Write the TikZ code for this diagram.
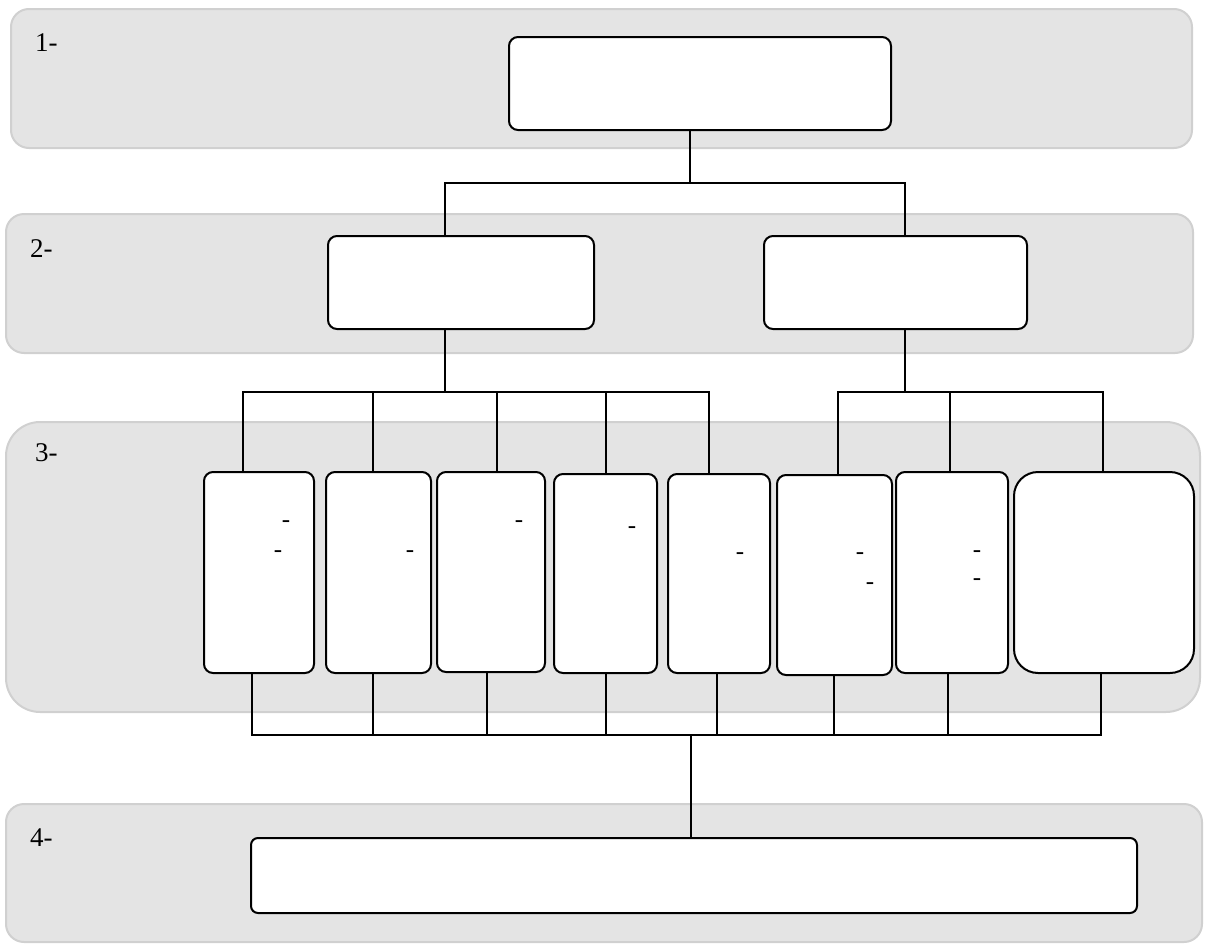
\documentclass[tikz,border=0pt]{standalone}
\usepackage{fontspec}
\setmainfont{Liberation Serif}
\definecolor{bandfill}{HTML}{E4E4E4}
\definecolor{bandline}{HTML}{D0D0D0}
\tikzset{
  band/.style={fill=bandfill, draw=bandline, line width=2pt, rounded corners=18pt},
  box/.style={draw=black, fill=white, line width=2pt, rounded corners=9pt, inner sep=0pt},
  conn/.style={draw=black, line width=2pt},
  lbl/.style={font=\fontsize{27}{32}\selectfont, inner sep=0pt, anchor=base west},
  hyph/.style={font=\fontsize{25}{30}\selectfont, inner sep=0pt, anchor=north}
}
\begin{document}
\begin{tikzpicture}[x=1pt,y=-1pt]
\useasboundingbox (0,0) rectangle (1208,945);
% bands
\draw[band] (11,9) rectangle (1192,148);
\draw[band] (6,214) rectangle (1193,353);
\draw[band, rounded corners=34pt] (6,422) rectangle (1200,712);
\draw[band] (6,804) rectangle (1202,942);
% labels
\node[lbl] (l1) at (35,51) {1-};
\node[lbl] (l2) at (30,257) {2-};
\node[lbl] (l3) at (35,461) {3-};
\node[lbl] (l4) at (30,846) {4-};
% level 1
\node[box, minimum width=382pt, minimum height=93pt] (T) at (700,83.5) {};
% level 2
\node[box, minimum width=266pt, minimum height=93pt] (A) at (461,282.5) {};
\node[box, minimum width=263pt, minimum height=93pt] (B) at (895.5,282.5) {};
% level 3
\node[box, minimum width=110pt, minimum height=201pt] (c1) at (259,572.5) {};
\node[box, minimum width=105pt, minimum height=201pt] (c2) at (378.5,572.5) {};
\node[box, minimum width=108pt, minimum height=200pt] (c3) at (491,572) {};
\node[box, minimum width=103pt, minimum height=199pt] (c4) at (605.5,573.5) {};
\node[box, minimum width=102pt, minimum height=199pt] (c5) at (719,573.5) {};
\node[box, minimum width=115pt, minimum height=200pt] (c6) at (834.5,575) {};
\node[box, minimum width=112pt, minimum height=201pt] (c7) at (952,572.5) {};
\node[box, minimum width=180pt, minimum height=201pt, rounded corners=24pt] (c8) at (1104,572.5) {};
% level 4
\node[box, minimum width=886pt, minimum height=75pt, rounded corners=7pt] (D) at (694,875.5) {};
% hyphens
\node[hyph] (h1) at (286,520) {-};
\node[hyph] (h2) at (278,550) {-};
\node[hyph] (h3) at (410,550) {-};
\node[hyph] (h4) at (519,520) {-};
\node[hyph] (h5) at (632,526) {-};
\node[hyph] (h6) at (740,552) {-};
\node[hyph] (h7) at (860,552) {-};
\node[hyph] (h8) at (870,582) {-};
\node[hyph] (h9) at (977,550) {-};
\node[hyph] (h10) at (977,578) {-};
% connectors level 1 -> 2
\coordinate (j1) at (690,183);
\coordinate (a1) at (445,183);
\coordinate (b1) at (905,183);
\draw[conn] (T.south -| j1) -- (j1);
\draw[conn] (A.north -| a1) -- (a1) -- (b1) -- (B.north -| b1);
% connectors A -> c1..c5
\coordinate (ja) at (445,392);
\coordinate (d1) at (243,392);
\coordinate (d2) at (373,392);
\coordinate (d3) at (497,392);
\coordinate (d4) at (606,392);
\coordinate (d5) at (709,392);
\draw[conn] (A.south -| ja) -- (ja);
\draw[conn] (c1.north -| d1) -- (d1) -- (d5) -- (c5.north -| d5);
\draw[conn] (c2.north -| d2) -- (d2);
\draw[conn] (c3.north -| d3) -- (d3);
\draw[conn] (c4.north -| d4) -- (d4);
% connectors B -> c6..c8
\coordinate (jb) at (905,392);
\coordinate (d6) at (838,392);
\coordinate (d7) at (950,392);
\coordinate (d8) at (1103,392);
\draw[conn] (B.south -| jb) -- (jb);
\draw[conn] (c6.north -| d6) -- (d6) -- (d8) -- (c8.north -| d8);
\draw[conn] (c7.north -| d7) -- (d7);
% bottom bus
\coordinate (e1) at (252,735);
\coordinate (e2) at (373,735);
\coordinate (e3) at (487,735);
\coordinate (e4) at (606,735);
\coordinate (e5) at (717,735);
\coordinate (e6) at (834,735);
\coordinate (e7) at (948,735);
\coordinate (e8) at (1101,735);
\coordinate (jd) at (691,735);
\draw[conn] (c1.south -| e1) -- (e1) -- (e8) -- (c8.south -| e8);
\draw[conn] (c2.south -| e2) -- (e2);
\draw[conn] (c3.south -| e3) -- (e3);
\draw[conn] (c4.south -| e4) -- (e4);
\draw[conn] (c5.south -| e5) -- (e5);
\draw[conn] (c6.south -| e6) -- (e6);
\draw[conn] (c7.south -| e7) -- (e7);
\draw[conn] (jd) -- (D.north -| jd);
\end{tikzpicture}
\end{document}
